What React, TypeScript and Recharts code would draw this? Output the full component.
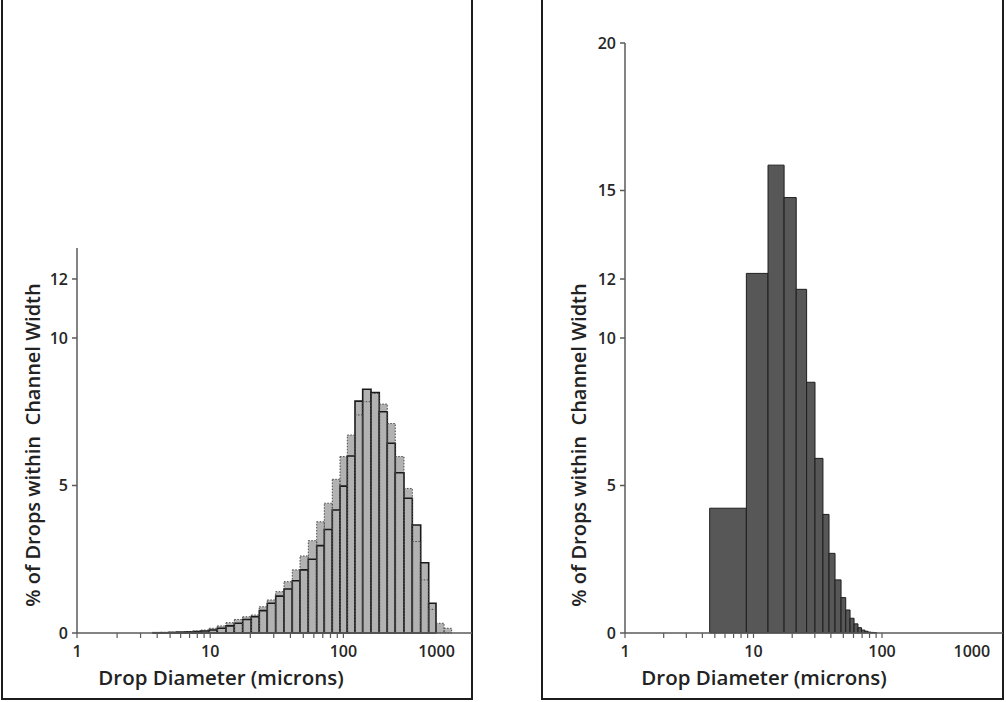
import React from 'react'
import { ComposedChart, XAxis, YAxis, ReferenceArea } from 'recharts'

// ---- left panel: bin edges in microns, % of drops per bin ----
const leftEdges = [
  3.72, 4.27, 4.91, 5.63, 6.47, 7.43, 8.53, 9.84, 11.31, 13.14, 15.17, 17.54, 20.35,
  23.37, 26.83, 31.03, 35.82, 41.34, 47.24, 54.52, 63.04, 71.89, 82.54, 94.3, 107,
  122.2, 139.6, 161.2, 186, 213.6, 245.2, 285.1, 329.2, 380.5, 436.9, 495.7, 570, 650
]
const leftSolid = [
  0.01, 0.01, 0.02, 0.03, 0.04, 0.05, 0.07, 0.1, 0.16, 0.24, 0.33, 0.46, 0.55, 0.76,
  1.01, 1.25, 1.49, 1.77, 2.14, 2.5, 2.96, 3.51, 4.17, 4.98, 6.0, 7.86, 8.26, 8.15,
  7.5, 6.43, 5.43, 4.57, 3.66, 2.38, 1.01, 0, 0
]
const leftDotted = [
  0.01, 0.02, 0.03, 0.04, 0.05, 0.07, 0.1, 0.16, 0.24, 0.35, 0.46, 0.55, 0.61, 0.89,
  1.12, 1.4, 1.74, 2.14, 2.61, 3.13, 3.77, 4.4, 5.21, 5.98, 6.71, 7.39, 7.84, 8.12,
  7.76, 7.1, 5.98, 4.9, 3.1, 1.8, 0.8, 0.33, 0.16
]

// ---- right panel ----
const rightEdges = [
  4.56, 8.8, 12.97, 17.3, 21.5, 25.9, 30.1, 34.7, 38.7, 43.1, 48.0, 52.2, 56.4, 60.6,
  65.0, 69.3, 73.6, 77.9, 82.2, 86.5, 90.8
]
const rightValues = [
  4.23, 12.19, 15.86, 14.76, 11.65, 8.5, 5.92, 4.02, 2.7, 1.8, 1.2, 0.78, 0.5, 0.31,
  0.18, 0.1, 0.06, 0.03, 0.02, 0.01
]

const leftYTicks = [0, 5, 10, 12]
const rightYTicks = [0, 5, 10, 12, 15, 20]
const xTicks = [1, 2, 3, 4, 5, 6, 7, 8, 9, 10, 20, 30, 40, 50, 60, 70, 80, 90, 100, 500]
const xLabelled = [1, 10, 100]
const THOUSAND_AT = 500 // where the "1000" label sits in the original

const FONT = '"Open Sans", "Noto Sans", sans-serif'
const AXIS = '#5a5a5a'
const tickStyle = { fontFamily: FONT, fontSize: 16, fontWeight: 600, fill: '#262626' }

function XTick({ x, y, payload }: any) {
  const v = payload.value
  const label = v === THOUSAND_AT ? '1000' : xLabelled.includes(v) ? String(v) : null
  return (
    <g>
      {v !== THOUSAND_AT && (
        <line x1={x} x2={x} y1={y - 13} y2={y - 8} stroke={AXIS} strokeWidth={1.2} />
      )}
      {label && (
        <text x={x} y={y} dy="0.71em" textAnchor="middle" {...tickStyle}>
          {label}
        </text>
      )}
    </g>
  )
}

const yTitle = (x: number, y: number) => () => (
  <text
    transform={`translate(${x},${y}) rotate(-90)`}
    textAnchor="middle"
    style={{ whiteSpace: 'pre' }}
    fontFamily={FONT}
    fontSize={20}
    fontWeight={600}
    fill="#222"
  >
    {'% of Drops within  Channel Width'}
  </text>
)

const xTitle = (x: number, y: number) => () => (
  <text x={x} y={y} textAnchor="middle" fontFamily={FONT} fontSize={20.5} fontWeight={600} fill="#222">
    Drop Diameter (microns)
  </text>
)

function bins(edges: number[], values: number[], key: string, style: any) {
  return values.map((v, i) =>
    v > 0 ? (
      <ReferenceArea
        key={key + i}
        x1={edges[i]}
        x2={edges[i + 1]}
        y1={0}
        y2={v}
        fillOpacity={1}
        {...style}
      />
    ) : null
  )
}

function Frame({ left, width }: { left: number; width: number }) {
  return (
    <div
      style={{
        position: 'absolute',
        left,
        top: -10,
        width,
        height: 710,
        boxSizing: 'border-box',
        border: '2px solid #1c1c1c'
      }}
    />
  )
}

export default function App() {
  return (
    <div style={{ position: 'absolute', left: 0, top: 0, width: 1006, height: 702, background: '#fff', overflow: 'hidden' }}>
      <Frame left={1} width={472} />
      <Frame left={541} width={463} />

      <div style={{ position: 'absolute', left: 0, top: 0 }}>
        <ComposedChart width={472} height={702} margin={{ top: 248, right: 0, left: 17, bottom: 39 }}>
          <XAxis
            type="number"
            dataKey="d"
            scale="log"
            domain={[1, 923.7]}
            allowDataOverflow
            ticks={xTicks}
            interval={0}
            tickLine={false}
            tickSize={5}
            tickMargin={8}
            tick={<XTick />}
            height={30}
            stroke={AXIS}
            strokeWidth={1.5}
            label={{ content: xTitle(221, 685) }}
          />
          <YAxis
            type="number"
            domain={[0, 13.05]}
            allowDataOverflow
            ticks={leftYTicks}
            interval={0}
            width={60}
            tickSize={5}
            tickMargin={4}
            tick={tickStyle}
            stroke={AXIS}
            strokeWidth={1.5}
            label={{ content: yTitle(40, 445) }}
          />
          {bins(leftEdges, leftDotted, 'ld', { fill: '#b2b2b2', stroke: 'none' })}
          {bins(leftEdges, leftSolid, 'ls', { fill: '#b2b2b2', stroke: '#1a1a1a', strokeWidth: 1.6 })}
          {bins(leftEdges, leftDotted, 'lo', {
            fill: 'none',
            fillOpacity: 0,
            stroke: '#4a4a4a',
            strokeWidth: 1,
            strokeDasharray: '1.5 1.5'
          })}
        </ComposedChart>
      </div>

      <div style={{ position: 'absolute', left: 545, top: 0 }}>
        <ComposedChart width={458} height={702} margin={{ top: 43, right: 0, left: 20, bottom: 39 }}>
          <XAxis
            type="number"
            dataKey="d"
            scale="log"
            domain={[1, 874]}
            allowDataOverflow
            ticks={xTicks}
            interval={0}
            tickLine={false}
            tickSize={5}
            tickMargin={8}
            tick={<XTick />}
            height={30}
            stroke={AXIS}
            strokeWidth={1.5}
            label={{ content: xTitle(219, 685) }}
          />
          <YAxis
            type="number"
            domain={[0, 20]}
            allowDataOverflow
            ticks={rightYTicks}
            interval={0}
            width={60}
            tickSize={5}
            tickMargin={4}
            tick={tickStyle}
            stroke={AXIS}
            strokeWidth={1.5}
            label={{ content: yTitle(41, 445) }}
          />
          {bins(rightEdges, rightValues, 'r', { fill: '#575757', stroke: '#1e1e1e', strokeWidth: 1 })}
        </ComposedChart>
      </div>
    </div>
  )
}
